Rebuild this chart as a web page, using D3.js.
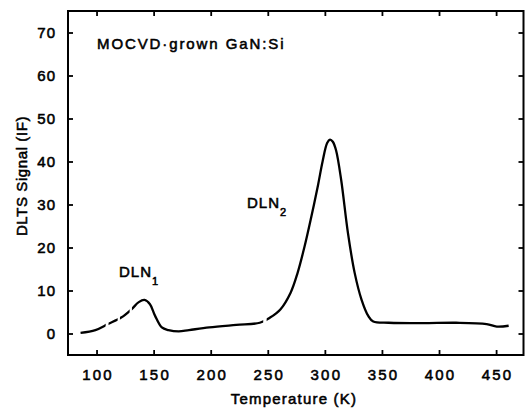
<!DOCTYPE html>
<html>
<head>
<meta charset="utf-8">
<script src="https://cdn.jsdelivr.net/npm/d3@7"></script>
<style>
  html, body { margin: 0; padding: 0; background: #fff; }
  text { font-family: "Liberation Sans", Arial, sans-serif; fill: #000; stroke: #000; stroke-width: 0.55px; }
</style>
</head>
<body>
<svg id="chart" width="529" height="409"></svg>
<script>
const temperature = [86, 99, 110, 121.6, 130.5, 137, 142, 146.8, 151.3, 157.2, 163, 172, 181, 198.7, 222.4, 243, 252, 261, 270, 276, 282, 288, 294, 298, 302, 304.5, 307, 309.8, 314.3, 320.2, 326.1, 332.1, 338, 342.4, 355.8, 385.4, 415, 441.7, 450.6, 461];
const signal = [0.15, 0.8, 2.2, 3.7, 5.6, 7.3, 7.8, 6.8, 4.1, 1.4, 0.8, 0.5, 0.8, 1.4, 2.0, 2.5, 3.7, 5.6, 9.5, 14, 20, 27, 34.5, 40, 44.3, 45.1, 44.6, 42.6, 35.7, 23.4, 14.1, 7.9, 4.1, 2.8, 2.5, 2.4, 2.5, 2.2, 1.6, 1.8];
// temperature ranges where the scanned trace is broken (dashed look)
const gapRanges = [[108, 110.5], [118.5, 120.5], [129, 131], [246, 249]];
const xTicks = [100, 150, 200, 250, 300, 350, 400, 450];
const yTicks = [0, 10, 20, 30, 40, 50, 60, 70];
const title = "MOCVD\u00B7grown GaN:Si";
const xLabel = "Temperature (K)";
const yLabel = "DLTS Signal  (IF)";

const svg = d3.select("#chart");
const mLeft = 68, mRight = 523.5, mTop = 11, mBottom = 355;
const x = d3.scaleLinear().domain([75, 474]).range([mLeft, mRight]);
const y = d3.scaleLinear().domain([-5, 75]).range([mBottom, mTop]);

// frame
svg.append("rect").attr("x", mLeft).attr("y", mTop).attr("width", mRight - mLeft).attr("height", mBottom - mTop)
  .attr("fill", "none").attr("stroke", "#000").attr("stroke-width", 2);

const tickLen = 5;
const axB = d3.axisBottom(x).tickValues(xTicks).tickSize(-tickLen).tickPadding(14).tickFormat(d3.format("d"));
const axT = d3.axisTop(x).tickValues(xTicks).tickSize(-tickLen).tickFormat("");
const axL = d3.axisLeft(y).tickValues(yTicks).tickSize(-tickLen).tickPadding(12).tickFormat(d3.format("d"));
const axR = d3.axisRight(y).tickValues(yTicks).tickSize(-tickLen).tickFormat("");

function style(g, ls) {
  g.select(".domain").remove();
  g.selectAll(".tick line").attr("stroke", "#000").attr("stroke-width", 1.8);
  g.selectAll(".tick text").attr("font-size", 15).attr("letter-spacing", ls)
    .attr("font-family", '"Liberation Sans", Arial, sans-serif').attr("fill", "#000");
}
svg.append("g").attr("transform", `translate(0,${mBottom})`).call(axB).call(style, 2.2)
  .selectAll(".tick text").attr("dx", 1);
svg.append("g").attr("transform", `translate(0,${mTop})`).call(axT).call(style, 0);
svg.append("g").attr("transform", `translate(${mLeft},0)`).call(axL).call(style, 1);
svg.append("g").attr("transform", `translate(${mRight},0)`).call(axR).call(style, 0);

// mask to create the breaks in the trace
const mask = svg.append("defs").append("mask").attr("id", "gaps");
mask.append("rect").attr("x", 0).attr("y", 0).attr("width", 529).attr("height", 409).attr("fill", "#fff");
mask.selectAll("rect.g").data(gapRanges).join("rect").attr("class", "g")
  .attr("x", d => x(d[0])).attr("width", d => x(d[1]) - x(d[0]))
  .attr("y", y(15)).attr("height", y(-3) - y(15)).attr("fill", "#000");

// curve
const pts = temperature.map((t, i) => [t, signal[i]]);
const line = d3.line().x(d => x(d[0])).y(d => y(d[1])).curve(d3.curveCatmullRom.alpha(0.5));
svg.append("path").datum(pts).attr("d", line).attr("fill", "none").attr("mask", "url(#gaps)")
  .attr("stroke", "#000").attr("stroke-width", 2.3).attr("stroke-linejoin", "round");

// texts
svg.append("text").attr("x", 97).attr("y", 49).attr("font-size", 15).attr("letter-spacing", 1.9).text(title);
svg.append("text").attr("x", 294).attr("y", 404).attr("text-anchor", "middle")
  .attr("font-size", 15).attr("letter-spacing", 1.2).text(xLabel);
svg.append("text").attr("transform", `translate(27,${176}) rotate(-90)`).attr("text-anchor", "middle")
  .attr("font-size", 15).attr("letter-spacing", 0.6).text(yLabel);

function peakLabel(px, py, sub) {
  const t = svg.append("text").attr("x", px).attr("y", py).attr("font-size", 15).attr("letter-spacing", 1);
  t.append("tspan").text("DLN");
  t.append("tspan").attr("dy", 8).attr("dx", 0).attr("font-size", 11).text(sub);
}
peakLabel(119, 277, "1");
peakLabel(247, 208, "2");
</script>
</body>
</html>
